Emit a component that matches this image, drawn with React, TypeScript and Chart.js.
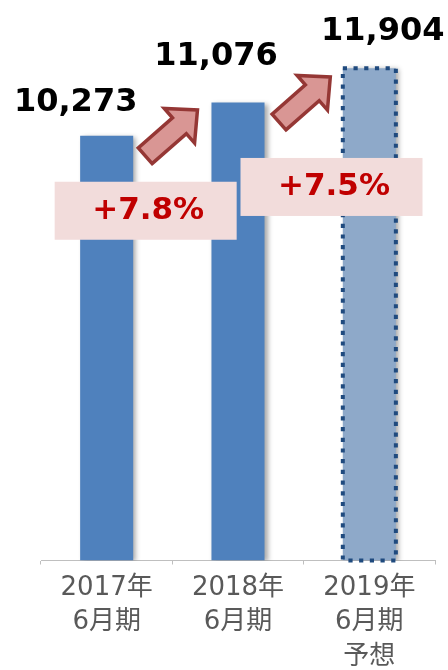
import React, { useEffect, useRef } from 'react';
import { Chart, registerables } from 'chart.js';

Chart.register(...registerables);

// ---- data ----
const categories: string[][] = [
  ['2017年', '6月期'],
  ['2018年', '6月期'],
  ['2019年', '6月期', '予想'],
];
const values: number[] = [10273, 11076, 11904];
const valueLabels: string[] = ['10,273', '11,076', '11,904'];
const growthLabels: string[] = ['+7.8%', '+7.5%'];
const yMin = 0;
const yMax = 13000;

// ---- styles ----
const barColors = ['#4F81BD', '#4F81BD', '#8EA9C9'];
const forecastBorder = '#1F4A7E';
const valueFont = 'bold 32px "DejaVu Sans"';
const growthFont = 'bold 31px "DejaVu Sans"';
const growthColor = '#C00000';
const boxFill = '#F2DCDB';
const arrowFill = '#D99694';
const arrowStroke = '#953735';
// label offsets relative to bar (dx from bar centre, dy above bar top to baseline)
const valueLabelDx = [-31, -22, 13.5];
const valueLabelDy = [24.5, 37.5, 28.8];
// growth box offsets relative to left bar of each pair
const boxDx = [-52, 2.5];
const boxDy = [46, 55.4];
const boxW = 182;
const boxH = 58;
// arrow: tail relative to left bar's right/top edge, tip relative to right bar's left/top
const arrowTailD = [[12, 20], [14.5, 19.4]];
const arrowTipD = [[-14, 7.4], [-12.5, 8.6]];

function drawArrow(ctx: CanvasRenderingContext2D, tx: number, ty: number, px: number, py: number) {
  const dx = px - tx;
  const dy = py - ty;
  const L = Math.hypot(dx, dy);
  const ux = dx / L;
  const uy = dy / L;
  const nx = -uy;
  const ny = ux;
  const sw = 21;
  const hw = 46;
  const hl = 24;
  const bx = px - ux * hl;
  const by = py - uy * hl;
  ctx.beginPath();
  ctx.moveTo(tx + nx * sw / 2, ty + ny * sw / 2);
  ctx.lineTo(bx + nx * sw / 2, by + ny * sw / 2);
  ctx.lineTo(bx + nx * hw / 2, by + ny * hw / 2);
  ctx.lineTo(px, py);
  ctx.lineTo(bx - nx * hw / 2, by - ny * hw / 2);
  ctx.lineTo(bx - nx * sw / 2, by - ny * sw / 2);
  ctx.lineTo(tx - nx * sw / 2, ty - ny * sw / 2);
  ctx.closePath();
  ctx.fillStyle = arrowFill;
  ctx.fill();
  ctx.lineWidth = 3.5;
  ctx.lineJoin = 'miter';
  ctx.strokeStyle = arrowStroke;
  ctx.stroke();
}

const decorPlugin = {
  id: 'decor',
  beforeDatasetDraw(chart: any) {
    const ctx = chart.ctx;
    ctx.save();
    ctx.shadowColor = 'rgba(0,0,0,0.35)';
    ctx.shadowBlur = 5;
    ctx.shadowOffsetX = 3;
    ctx.shadowOffsetY = 1;
  },
  afterDatasetDraw(chart: any) {
    chart.ctx.restore();
  },
  afterDatasetsDraw(chart: any) {
    const ctx = chart.ctx as CanvasRenderingContext2D;
    const bars = chart.getDatasetMeta(0).data as any[];
    // dotted border on forecast bar
    const f = bars[bars.length - 1];
    const half = f.width / 2;
    ctx.save();
    ctx.strokeStyle = forecastBorder;
    ctx.lineWidth = 4;
    ctx.setLineDash([4.2, 6.5]);
    ctx.strokeRect(f.x - half, f.y, f.width, f.base - f.y);
    ctx.restore();

    // value labels
    ctx.save();
    ctx.font = valueFont;
    ctx.fillStyle = '#000000';
    ctx.textAlign = 'center';
    ctx.textBaseline = 'alphabetic';
    bars.forEach((b, i) => {
      ctx.fillText(valueLabels[i], b.x + valueLabelDx[i], b.y - valueLabelDy[i]);
    });
    ctx.restore();

    // arrows
    ctx.save();
    for (let i = 0; i < growthLabels.length; i++) {
      const a = bars[i];
      const c = bars[i + 1];
      const tx = a.x + a.width / 2 + arrowTailD[i][0];
      const ty = a.y + arrowTailD[i][1];
      const px = c.x - c.width / 2 + arrowTipD[i][0];
      const py = c.y + arrowTipD[i][1];
      drawArrow(ctx, tx, ty, px, py);
    }
    ctx.restore();

    // growth boxes
    ctx.save();
    for (let i = 0; i < growthLabels.length; i++) {
      const a = bars[i];
      const left = a.x + boxDx[i];
      const top = a.y + boxDy[i];
      ctx.fillStyle = boxFill;
      ctx.fillRect(left, top, boxW, boxH);
      ctx.font = growthFont;
      ctx.fillStyle = growthColor;
      ctx.textAlign = 'center';
      ctx.textBaseline = 'alphabetic';
      ctx.fillText(growthLabels[i], left + boxW / 2 + 2.5, top + 37.5);
    }
    ctx.restore();
  },
};

export default function App() {
  const ref = useRef<HTMLCanvasElement | null>(null);
  useEffect(() => {
    if (!ref.current) return;
    const chart = new Chart(ref.current, {
      type: 'bar',
      data: {
        labels: categories,
        datasets: [
          {
            data: values,
            backgroundColor: barColors,
            borderWidth: 0,
            barPercentage: 0.404,
            categoryPercentage: 1,
          },
        ],
      },
      options: {
        animation: false,
        responsive: true,
        maintainAspectRatio: false,
        layout: { padding: { left: 41, right: 13, top: 23, bottom: 0 } },
        plugins: {
          legend: { display: false },
          tooltip: { enabled: false },
        },
        scales: {
          x: {
            grid: {
              display: true,
              drawOnChartArea: false,
              drawTicks: true,
              tickLength: 4,
              color: '#BFBFBF',
              offset: true,
            },
            border: { display: true, color: '#BFBFBF', width: 1 },
            ticks: {
              color: '#595959',
              padding: 6,
              maxRotation: 0,
              autoSkip: false,
              font: { family: '"DejaVu Sans", "Noto Sans CJK JP", sans-serif', size: 26, lineHeight: '34.5px' as any },
            },
          },
          y: {
            display: false,
            min: yMin,
            max: yMax,
          },
        },
      },
      plugins: [decorPlugin],
    });
    return () => chart.destroy();
  }, []);
  return (
    <div style={{ position: 'fixed', left: 0, top: 0, width: 448, height: 680, background: '#fff' }}>
      <canvas ref={ref} />
    </div>
  );
}
